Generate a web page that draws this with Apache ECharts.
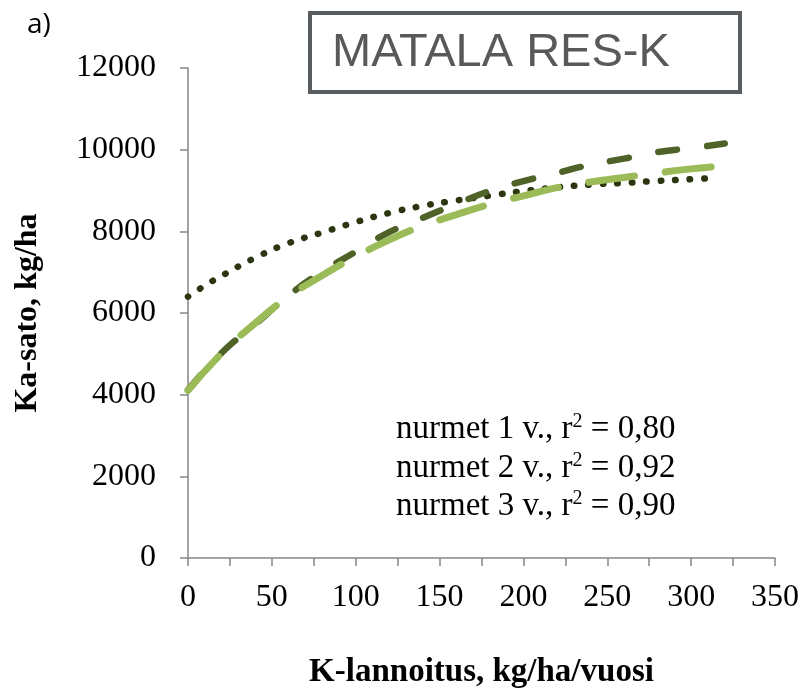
<!DOCTYPE html>
<html>
<head>
<meta charset="utf-8">
<script src="https://cdn.jsdelivr.net/npm/echarts@6/dist/echarts.min.js"></script>
<style>html,body{margin:0;padding:0;background:#fff;}#c{width:802px;height:688px;}</style>
</head>
<body>
<div id="c"></div>
<script>
// nurmet 1 v. (dotted)
var x1 = [0, 10, 20, 40, 60, 80, 100, 120, 140, 160, 180, 200, 220, 240, 260, 280, 300, 314];
var y1 = [6400, 6670, 6910, 7350, 7710, 7970, 8225, 8450, 8625, 8755, 8875, 8985, 9075, 9145, 9185, 9235, 9275, 9305];
// nurmet 2 v. (dark dashed)
var x2 = [0, 20, 40, 60, 80, 100, 120, 140, 160, 180, 200, 220, 240, 260, 280, 300, 320];
var y2 = [4120, 5020, 5720, 6430, 7010, 7500, 7980, 8330, 8670, 8990, 9230, 9430, 9630, 9780, 9940, 10040, 10150];
// nurmet 3 v. (light dashed)
var x3 = [0, 20, 40, 60, 80, 100, 120, 140, 160, 180, 200, 220, 240, 260, 280, 300, 320];
var y3 = [4100, 5010, 5750, 6400, 6920, 7380, 7790, 8135, 8410, 8660, 8870, 9070, 9210, 9320, 9430, 9530, 9605];

var seriesNames = ['nurmet 1 v.', 'nurmet 2 v.', 'nurmet 3 v.'];
var r2Labels = ['0,80', '0,92', '0,90'];
var chartTitle = 'MATALA RES-K';
var panelLabel = 'a)';
var xName = 'K-lannoitus, kg/ha/vuosi';
var yName = 'Ka-sato, kg/ha';

function pairs(xs, ys) { return xs.map(function (x, i) { return [x, ys[i]]; }); }

var chart = echarts.init(document.getElementById('c'), null, {renderer: 'canvas'});
var serif = '"Liberation Serif", "Times New Roman", serif';

var texts = r2Labels.map(function (r, i) {
  return {
    type: 'text',
    left: 396,
    top: 412 + i * 38.5,
    style: {
      text: '{a|' + seriesNames[i] + ', r}{s|2}{a| = ' + r + '}',
      rich: {
        a: {fontFamily: serif, fontSize: 33, fill: '#000'},
        s: {fontFamily: serif, fontSize: 20, fill: '#000', padding: [0, 0, 15, 0]}
      }
    }
  };
});

var option = {
  animation: false,
  backgroundColor: '#fff',
  grid: {left: 188, right: 27, top: 68, bottom: 130, containLabel: false, outerBoundsMode: 'none'},
  xAxis: {
    type: 'value', min: 0, max: 350, interval: 25,
    name: xName, nameLocation: 'middle', nameGap: 98,
    nameTextStyle: {fontFamily: serif, fontWeight: 'bold', fontSize: 33, color: '#000'},
    axisLine: {show: true, lineStyle: {color: '#868686', width: 1.5}},
    axisTick: {show: true, length: 8, lineStyle: {color: '#868686', width: 1.5}},
    splitLine: {show: false},
    axisLabel: {
      fontFamily: serif, fontSize: 32, color: '#000', margin: 24,
      formatter: function (v) { return v % 50 === 0 ? String(v) : ''; }
    }
  },
  yAxis: {
    type: 'value', min: 0, max: 12000, interval: 2000,
    name: yName, nameLocation: 'middle', nameGap: 144,
    nameTextStyle: {fontFamily: serif, fontWeight: 'bold', fontSize: 32, color: '#000'},
    axisLine: {show: true, lineStyle: {color: '#868686', width: 1.5}},
    axisTick: {show: true, length: 8, lineStyle: {color: '#868686', width: 1.5}},
    splitLine: {show: false},
    axisLabel: {fontFamily: serif, fontSize: 32, color: '#000', margin: 32,
      formatter: function (v) { return String(v); }}
  },
  series: [
    {
      name: seriesNames[0], type: 'line', data: pairs(x1, y1), smooth: true, showSymbol: false, z: 2,
      lineStyle: {color: '#2b3611', width: 6.5, type: [0.5, 14], cap: 'round'}
    },
    {
      name: seriesNames[1], type: 'line', data: pairs(x2, y2), smooth: true, showSymbol: false, z: 3,
      lineStyle: {color: '#4f6228', width: 6.5, type: [19, 30], cap: 'round'}
    },
    {
      name: seriesNames[2], type: 'line', data: pairs(x3, y3), smooth: true, showSymbol: false, z: 4,
      lineStyle: {color: '#9bbb59', width: 7, type: [46, 31], cap: 'round'}
    }
  ],
  graphic: [
    {
      type: 'rect', left: 308, top: 11,
      shape: {width: 430, height: 79},
      style: {fill: '#fff', stroke: '#5a5d60', lineWidth: 4}
    },
    {
      type: 'text', left: 332, top: 30,
      style: {text: chartTitle, fontFamily: '"Liberation Sans", Arial, sans-serif', fontSize: 47, fill: '#595959'}
    },
    {
      type: 'text', left: 27, top: 11,
      style: {text: panelLabel, fontFamily: '"Open Sans", sans-serif', fontSize: 28, fill: '#000'}
    }
  ].concat(texts)
};
chart.setOption(option);
</script>
</body>
</html>
